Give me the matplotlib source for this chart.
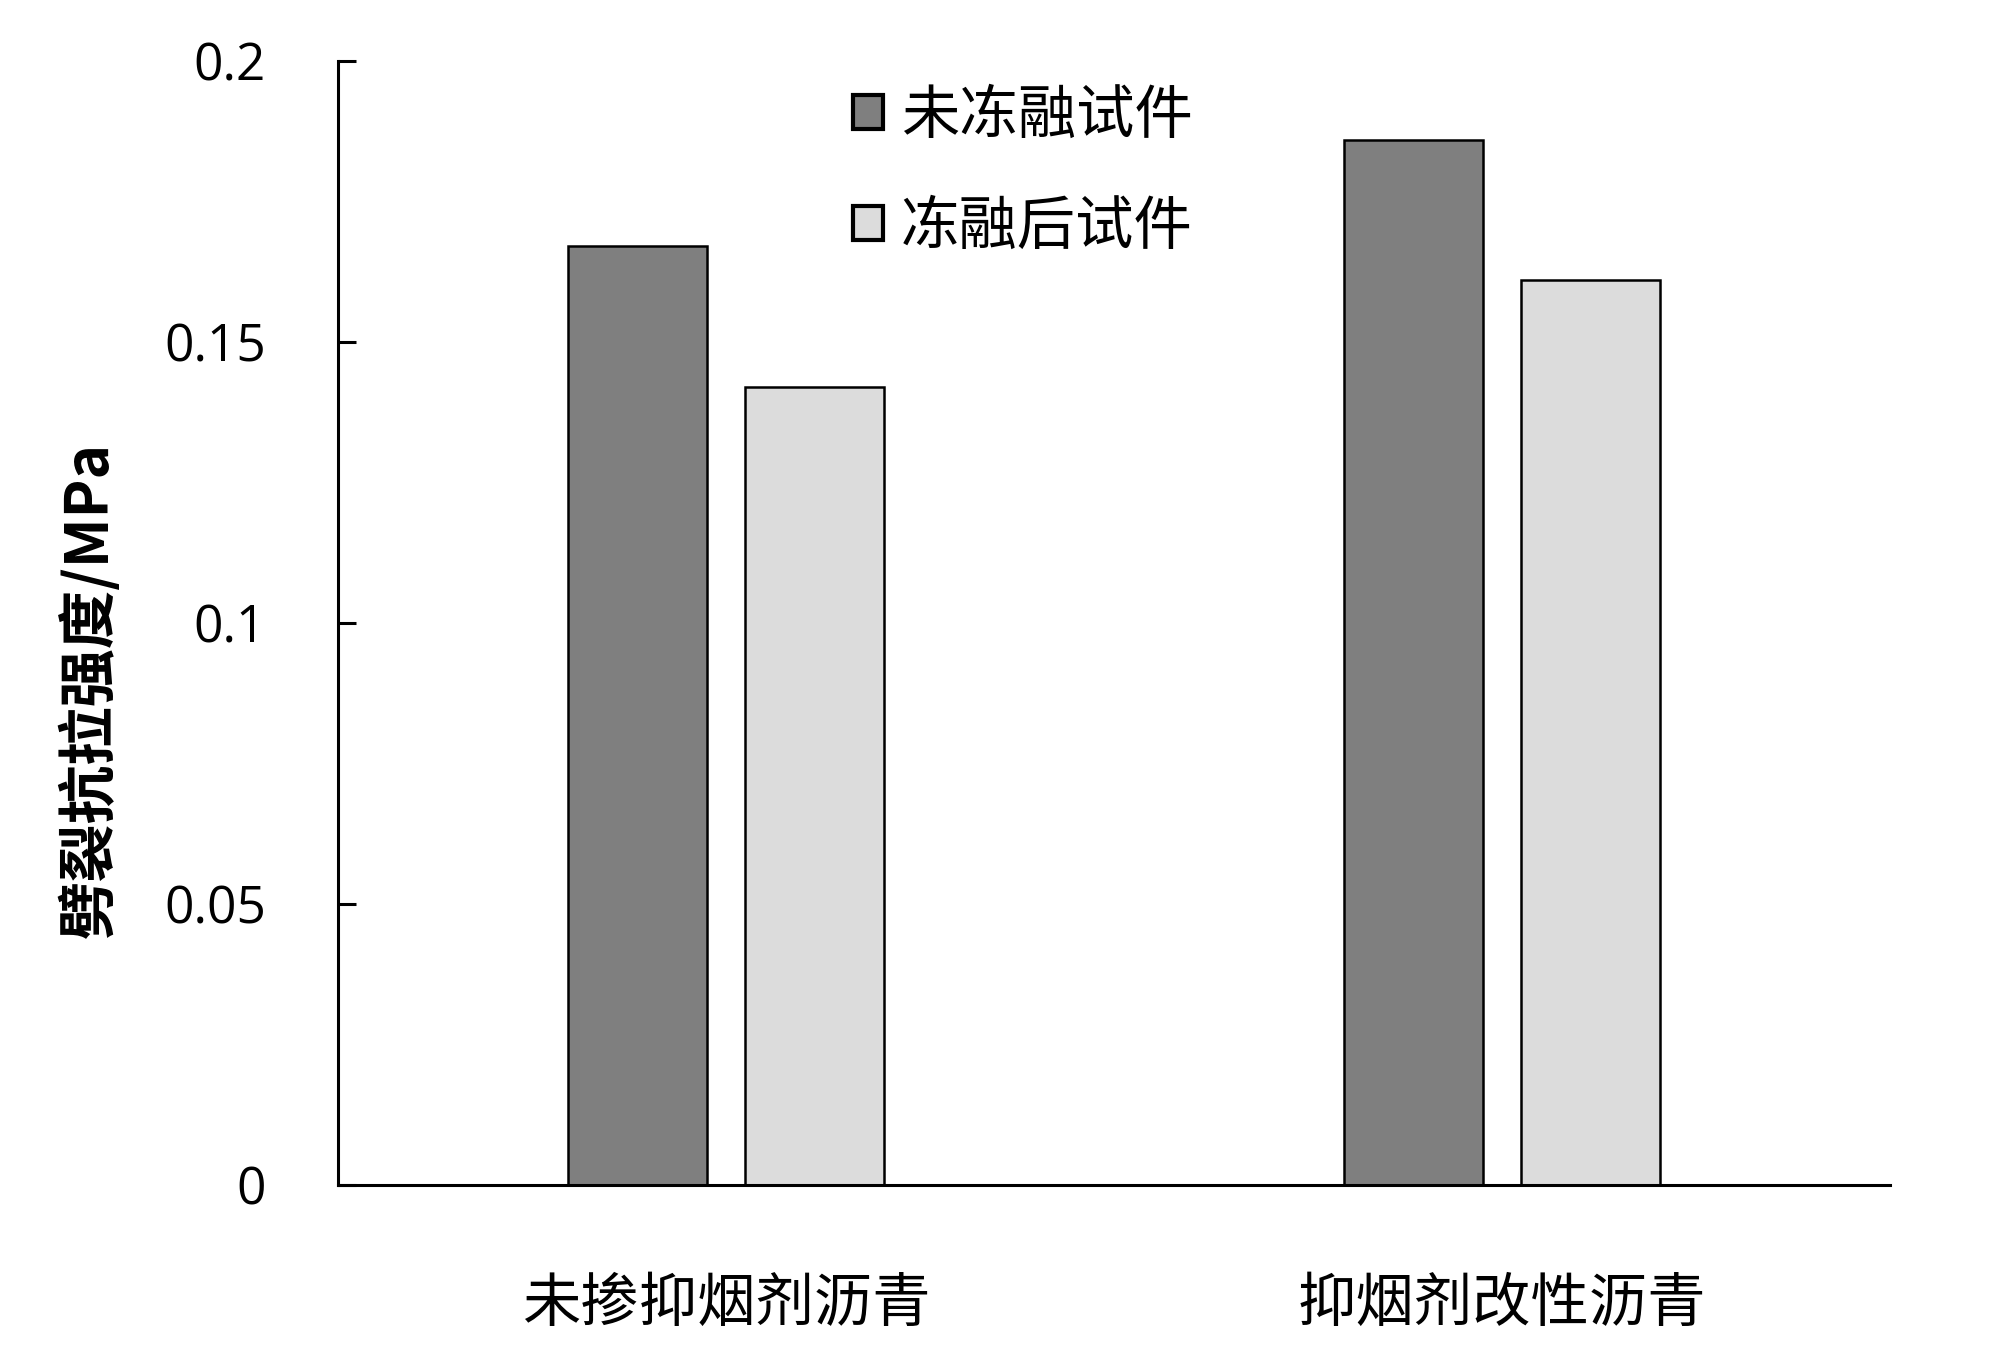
import matplotlib
matplotlib.use('Agg')
import matplotlib.pyplot as plt
import numpy as np

plt.rcParams['font.family'] = ['Noto Sans CJK SC', 'DejaVu Sans']

# Данные
groups = ['未掺抑烟剂沥青', '抑烟剂改性沥青']
series = ['未冻融试件', '冻融后试件']
before = [0.167, 0.186]  # до замораживания
after = [0.142, 0.161]   # после замораживания
yticks = [0, 0.05, 0.1, 0.15, 0.2]
ytick_labels = ['0', '0.05', '0.1', '0.15', '0.2']

fig = plt.figure(figsize=(20, 13.7), dpi=100)
ax = fig.add_axes([0.169, 0.135, 0.776, 0.8205])

x = np.arange(len(groups))
w = 0.179
ax.bar(x - 0.114, before, width=w, color='#7f7f7f', edgecolor='black', linewidth=1.8, label=series[0])
ax.bar(x + 0.114, after, width=w, color='#dcdcdc', edgecolor='black', linewidth=1.8, label=series[1])

ax.set_xlim(-0.5, 1.5)
ax.set_ylim(0, 0.2)
ax.set_xticks(x)
ax.set_xticklabels(groups, fontsize=42)
ax.tick_params(axis='x', length=0, pad=64)
ax.set_yticks(yticks)
ax.set_yticklabels(ytick_labels, family=['Open Sans'], fontsize=37)
ax.tick_params(axis='y', direction='in', length=13, width=2.2, pad=52)

ax.spines['top'].set_visible(False)
ax.spines['right'].set_visible(False)
ax.spines['left'].set_linewidth(2.2)
ax.spines['bottom'].set_linewidth(2.2)

ax.set_ylabel('劈裂抗拉强度/MPa', fontsize=42, fontweight='bold')
ax.yaxis.set_label_coords(-0.140, 0.44)

leg = ax.legend(loc='upper left', bbox_to_anchor=(0.298, 1.025), frameon=False, fontsize=42,
                handlelength=0.52, handleheight=0.52, handletextpad=0.3, labelspacing=0.87)
for p in leg.get_patches():
    p.set_linewidth(3)

plt.savefig('out.png')
